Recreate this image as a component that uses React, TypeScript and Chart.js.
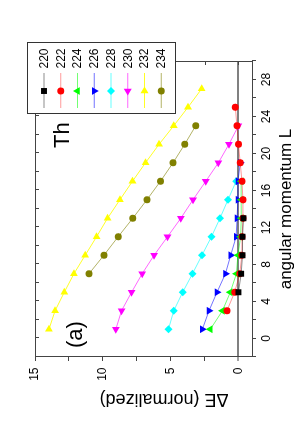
import { useEffect, useRef } from "react";
import { Chart, registerables } from "chart.js";
import { drawPoint } from "chart.js/helpers";

Chart.register(...registerables);

// ---------- data ----------
const SERIES_NAMES = ["220", "222", "224", "226", "228", "230", "232", "234"];

const L_220 = [5, 7, 9, 11, 13];
const DE_220 = [0.0, -0.2, -0.3, -0.3, -0.37];

const L_222 = [3, 5, 7, 9, 11, 13, 15, 17, 19, 21, 23, 25];
const DE_222 = [0.85, 0.28, -0.1, -0.25, -0.27, -0.33, -0.33, -0.26, -0.13, 0.0, 0.11, 0.23];

const L_224 = [1, 3, 5, 7, 9, 11, 13, 15, 17];
const DE_224 = [2.07, 1.18, 0.6, 0.15, 0.04, -0.16, -0.21, -0.2, -0.2];

const L_226 = [1, 3, 5, 7, 9, 11, 13, 15, 17, 19];
const DE_226 = [2.66, 2.17, 1.58, 0.96, 0.57, 0.17, 0.1, 0.04, 0.04, -0.14];

const L_228 = [1, 3, 5, 7, 9, 11, 13, 15, 17];
const DE_228 = [5.16, 4.77, 4.11, 3.39, 2.69, 1.99, 1.36, 0.77, 0.17];

const L_230 = [1, 3, 5, 7, 9, 11, 13, 15, 17, 19, 21, 23];
const DE_230 = [9.04, 8.62, 7.88, 7.1, 6.22, 5.23, 4.25, 3.35, 2.41, 1.48, 0.7, 0.0];

const L_232 = [1, 3, 5, 7, 9, 11, 13, 15, 17, 19, 21, 23, 25, 27];
const DE_232 = [13.97, 13.52, 12.84, 12.13, 11.3, 10.46, 9.65, 8.74, 7.81, 6.85, 5.85, 4.77, 3.72, 2.71];

const L_234 = [7, 9, 11, 13, 15, 17, 19, 21, 23];
const DE_234 = [11.02, 9.92, 8.87, 7.79, 6.75, 5.75, 4.82, 3.96, 3.15];

const SERIES_L = [L_220, L_222, L_224, L_226, L_228, L_230, L_232, L_234];
const SERIES_DE = [DE_220, DE_222, DE_224, DE_226, DE_228, DE_230, DE_232, DE_234];

const L_TICKS = [-2, 0, 2, 4, 6, 8, 10, 12, 14, 16, 18, 20, 22, 24, 26, 28, 30];
const L_LABELS = [0, 4, 8, 12, 16, 20, 24, 28];
const DE_TICKS = [0, 2.5, 5, 7.5, 10, 12.5, 15];
const DE_LABELS = [0, 5, 10, 15];

const X_TITLE = "angular momentum L";
const Y_TITLE = "\u0394E (normalized)";
const ELEMENT_LABEL = "Th";
const PANEL_LABEL = "(a)";

// ---------- styles ----------
const MARKER_COLORS = ["#000000", "#ff0000", "#00ff00", "#0000ff", "#00ffff", "#ff00ff", "#ffff00", "#808000"];
const LINE_COLORS = [
  "rgba(0,0,0,0.45)",
  "rgba(255,0,0,0.4)",
  "rgba(0,255,0,0.55)",
  "rgba(0,0,255,0.55)",
  "rgba(0,255,255,0.6)",
  "rgba(255,0,255,0.6)",
  "rgba(255,255,0,0.85)",
  "rgba(128,128,0,0.6)",
];
const POINT_STYLES = ["rect", "circle", "triangle", "triangle", "rectRot", "triangle", "triangle", "circle"];
const POINT_ROTATIONS = [0, 0, 0, 180, 0, 270, 90, 0];
const POINT_RADII = [4.2, 3.5, 4.5, 4.5, 4, 4.5, 4.5, 3.5];

const FONT = '"Liberation Sans", Arial, Helvetica, sans-serif';
const AXIS_COLOR = "#444444";

const W = 436;
const H = 303;

const decorPlugin = {
  id: "decor",
  afterDraw(chart: any) {
    const { ctx, chartArea: a, scales } = chart;
    const xs = scales.x;
    const ys = scales.y;
    ctx.save();
    // top and right frame lines
    ctx.strokeStyle = AXIS_COLOR;
    ctx.lineWidth = 1;
    ctx.beginPath();
    ctx.moveTo(a.left, a.top + 0.5);
    ctx.lineTo(a.right, a.top + 0.5);
    ctx.moveTo(a.right - 0.5, a.top);
    ctx.lineTo(a.right - 0.5, a.bottom);
    ctx.stroke();
    // mirror ticks (inward)
    ctx.beginPath();
    for (const v of L_TICKS) {
      const px = Math.round(xs.getPixelForValue(v)) + 0.5;
      ctx.moveTo(px, a.top);
      ctx.lineTo(px, a.top + 4);
    }
    for (const v of DE_TICKS) {
      const py = Math.round(ys.getPixelForValue(v)) + 0.5;
      ctx.moveTo(a.right, py);
      ctx.lineTo(a.right - 4, py);
    }
    ctx.stroke();

    // y axis title
    ctx.fillStyle = "#000";
    ctx.font = `18px ${FONT}`;
    ctx.save();
    ctx.translate(37, 164);
    ctx.rotate(-Math.PI / 2);
    ctx.textAlign = "center";
    ctx.textBaseline = "middle";
    ctx.fillText(Y_TITLE, 0, 0);
    ctx.restore();

    // labels inside plot
    ctx.font = `22px ${FONT}`;
    ctx.textAlign = "left";
    ctx.textBaseline = "alphabetic";
    ctx.fillText(ELEMENT_LABEL, 288, 68.5);
    ctx.fillText(PANEL_LABEL, 88, 82);

    // legend
    const bx = 322.5, by = 27.5, bw = 71, bh = 148;
    ctx.fillStyle = "#fff";
    ctx.fillRect(bx, by, bw, bh);
    ctx.strokeStyle = "#333";
    ctx.lineWidth = 1;
    ctx.strokeRect(bx, by, bw, bh);
    ctx.font = `12px ${FONT}`;
    ctx.textBaseline = "middle";
    SERIES_NAMES.forEach((name, i) => {
      const cy = 44 + i * 16.75;
      ctx.strokeStyle = LINE_COLORS[i];
      ctx.lineWidth = 1;
      ctx.beginPath();
      ctx.moveTo(328, cy);
      ctx.lineTo(363, cy);
      ctx.stroke();
      ctx.fillStyle = MARKER_COLORS[i];
      ctx.strokeStyle = MARKER_COLORS[i];
      drawPoint(
        ctx,
        { pointStyle: POINT_STYLES[i], rotation: POINT_ROTATIONS[i], radius: POINT_RADII[i], borderWidth: 0 } as any,
        345,
        cy
      );
      ctx.fillStyle = "#000";
      ctx.fillText(name, 367.5, cy + 0.5);
    });
    ctx.restore();
  },
};

export default function App() {
  const ref = useRef<HTMLCanvasElement>(null);

  useEffect(() => {
    document.body.style.margin = "0";
    const datasets = SERIES_NAMES.map((name, i) => ({
      label: name,
      data: SERIES_L[i].map((l, j) => ({ x: l, y: SERIES_DE[i][j] })),
      borderColor: LINE_COLORS[i],
      borderWidth: 1,
      backgroundColor: MARKER_COLORS[i],
      pointBackgroundColor: MARKER_COLORS[i],
      pointBorderColor: MARKER_COLORS[i],
      pointBorderWidth: 0,
      pointStyle: POINT_STYLES[i],
      pointRotation: POINT_ROTATIONS[i],
      pointRadius: POINT_RADII[i],
      showLine: true,
      tension: 0,
      fill: false,
      clip: false as any,
    }));

    const chart = new Chart(ref.current!, {
      type: "line",
      data: { datasets },
      options: {
        responsive: false,
        maintainAspectRatio: false,
        devicePixelRatio: 1,
        animation: false,
        layout: { padding: { top: 35, right: W - 375, left: 0, bottom: 0 } },
        plugins: { legend: { display: false }, tooltip: { enabled: false }, title: { display: false } },
        scales: {
          x: {
            type: "linear",
            position: "bottom",
            min: -2,
            max: 30,
            afterBuildTicks: (s: any) => {
              s.ticks = L_TICKS.map((v) => ({ value: v }));
            },
            afterFit: (s: any) => {
              s.height = H - 252;
            },
            ticks: {
              callback: (v: any) => (L_LABELS.includes(Number(v)) ? String(v) : ""),
              font: { family: FONT, size: 12 },
              color: "#000",
              padding: 3,
              maxRotation: 0,
              autoSkip: false,
            },
            grid: { drawOnChartArea: false, drawTicks: true, tickLength: 4, tickColor: AXIS_COLOR, tickWidth: 1 },
            border: { display: true, color: AXIS_COLOR, width: 1 },
            title: {
              display: true,
              text: X_TITLE,
              font: { family: FONT, size: 17 },
              color: "#000",
              padding: { top: 0, bottom: 6.8 },
            },
          },
          y: {
            type: "linear",
            position: "left",
            min: -1,
            max: 15,
            afterBuildTicks: (s: any) => {
              s.ticks = DE_TICKS.map((v) => ({ value: v }));
            },
            afterFit: (s: any) => {
              s.width = 79;
            },
            ticks: {
              callback: (v: any) => (DE_LABELS.includes(Number(v)) ? String(v) : ""),
              font: { family: FONT, size: 12 },
              color: "#000",
              padding: 6.5,
              autoSkip: false,
            },
            grid: {
              drawOnChartArea: true,
              drawTicks: true,
              tickLength: 4,
              tickColor: AXIS_COLOR,
              tickWidth: 1,
              color: (c: any) => (c.tick && c.tick.value === 0 ? "#808080" : "rgba(0,0,0,0)"),
              lineWidth: (c: any) => (c.tick && c.tick.value === 0 ? 2 : 1),
            },
            border: { display: true, color: AXIS_COLOR, width: 1 },
            title: { display: false },
          },
        },
      },
      plugins: [decorPlugin],
    } as any);
    return () => chart.destroy();
  }, []);

  return (
    <div
      style={{
        position: "fixed",
        left: 0,
        top: 0,
        width: H,
        height: W,
        overflow: "hidden",
        background: "#fff",
      }}
    >
      <div
        style={{
          position: "absolute",
          left: 0,
          top: 0,
          width: W,
          height: H,
          transformOrigin: "0 0",
          transform: `translate(0px, ${W}px) rotate(-90deg)`,
        }}
      >
        <canvas ref={ref} width={W} height={H} style={{ width: W, height: H, display: "block" }} />
      </div>
    </div>
  );
}
